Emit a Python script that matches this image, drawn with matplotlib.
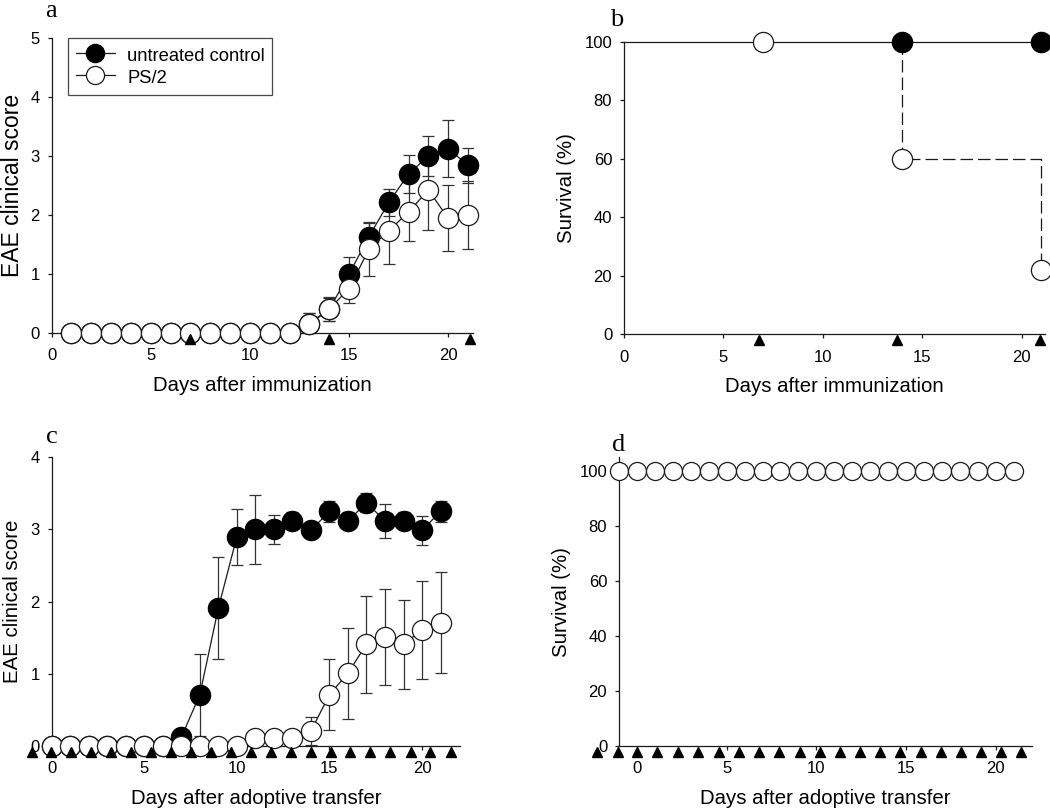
import matplotlib
matplotlib.use('Agg')
import matplotlib.pyplot as plt
import numpy as np

plt.rcParams['font.family'] = ['Liberation Sans', 'DejaVu Sans']

# ---------------- data ----------------
# Panel a: EAE score after immunization
days_a = [1, 2, 3, 4, 5, 6, 7, 8, 9, 10, 11, 12, 13, 14, 15, 16, 17, 18, 19, 20, 21]
ctrl_a = [0, 0, 0, 0, 0, 0, 0, 0, 0, 0, 0, 0, 0.15, 0.40, 1.00, 1.63, 2.21, 2.69, 3.00, 3.12, 2.84]
ctrl_a_err = [0, 0, 0, 0, 0, 0, 0, 0, 0, 0, 0, 0, 0.18, 0.20, 0.29, 0.25, 0.23, 0.32, 0.34, 0.48, 0.30]
ps2_a = [0, 0, 0, 0, 0, 0, 0, 0, 0, 0, 0, 0, 0.16, 0.41, 0.75, 1.42, 1.73, 2.05, 2.42, 1.94, 2.00]
ps2_a_err = [0, 0, 0, 0, 0, 0, 0, 0, 0, 0, 0, 0, 0.18, 0.20, 0.25, 0.45, 0.56, 0.50, 0.67, 0.56, 0.57]
treat_a = [7, 14, 21.1]

# Panel b: survival after immunization
ctrl_b_line_days = [0, 21]
ctrl_b_line = [100, 100]
ctrl_b_days = [14, 21]
ctrl_b = [100, 100]
ps2_b_days = [7, 14, 21]
ps2_b = [100, 60, 22]
treat_b = [6.77, 13.73, 20.95]

# Panel c: EAE score after adoptive transfer
days_c = [0, 1, 2, 3, 4, 5, 6, 7, 8, 9, 10, 11, 12, 13, 14, 15, 16, 17, 18, 19, 20, 21]
ctrl_c = [0, 0, 0, 0, 0, 0, 0, 0.12, 0.71, 1.91, 2.90, 3.00, 3.00, 3.12, 2.99, 3.25, 3.12, 3.37, 3.12, 3.12, 2.99, 3.25]
ctrl_c_err = [0, 0, 0, 0, 0, 0, 0, 0, 0.57, 0.71, 0.39, 0.48, 0.20, 0.12, 0.04, 0.15, 0.12, 0.13, 0.24, 0.12, 0.20, 0.15]
ps2_c = [0, 0, 0, 0, 0, 0, 0, 0, 0, 0, 0, 0.11, 0.11, 0.11, 0.21, 0.71, 1.01, 1.41, 1.51, 1.41, 1.61, 1.71]
ps2_c_err = [0, 0, 0, 0, 0, 0, 0, 0, 0, 0, 0, 0, 0, 0, 0.19, 0.49, 0.63, 0.67, 0.67, 0.62, 0.68, 0.70]
treat_c = [-1.08, -0.05, 1.03, 2.11, 3.19, 4.27, 5.35, 6.43, 7.51, 8.59, 9.68,
           10.76, 11.84, 12.92, 14.0, 15.08, 16.13, 17.2, 18.29, 19.41, 20.45, 21.57]

# Panel d: survival after adoptive transfer
days_d = [-1, 0, 1, 2, 3, 4, 5, 6, 7, 8, 9, 10, 11, 12, 13, 14, 15, 16, 17, 18, 19, 20, 21]
surv_d = [100, 100, 100, 100, 100, 100, 100, 100, 100, 100, 100, 100,
          100, 100, 100, 100, 100, 100, 100, 100, 100, 100, 100]
treat_d = [-2.21, -1.06, 0, 1.13, 2.29, 3.40, 4.55, 5.67, 6.78, 7.90, 9.07,
           10.19, 11.30, 12.42, 13.53, 14.68, 15.86, 16.97, 18.09, 19.2, 20.32, 21.43]

# ---------------- style ----------------
LC = '#1a1a1a'
EC = '#333333'
MS = 14.5
TICK_FS = 12
LABEL_FS = 14.7

fig = plt.figure(figsize=(10.5, 8.1), dpi=100)

def style_axes(ax):
    for s in ['top', 'right']:
        ax.spines[s].set_visible(False)
    for s in ['left', 'bottom']:
        ax.spines[s].set_color(LC)
        ax.spines[s].set_linewidth(0.9)
    ax.tick_params(direction='out', length=3, width=0.9, color=LC,
                   labelsize=TICK_FS)
    ax.tick_params(axis='x', pad=8)
    ax.tick_params(axis='y', pad=5.5)

def errbars(ax, x, y, e):
    x = np.asarray(x, float); y = np.asarray(y, float); e = np.asarray(e, float)
    m = e > 0
    ax.errorbar(x[m], y[m], yerr=e[m], fmt='none', ecolor=EC, elinewidth=0.9,
                capsize=4.5, capthick=0.9, zorder=1)

def triangles(ax, xs, yoff):
    ax.plot(xs, [yoff] * len(xs), linestyle='none', marker='^', color='black',
            ms=6.5, transform=ax.get_xaxis_transform(), clip_on=False, zorder=6)

# ---- panel a ----
axa = fig.add_axes([0.0492, 0.5889, 0.4013, 0.3646])
style_axes(axa)
errbars(axa, days_a, ctrl_a, ctrl_a_err)
errbars(axa, days_a, ps2_a, ps2_a_err)
axa.plot(days_a, ctrl_a, '-', color=LC, lw=0.9, marker='o', ms=MS, mfc='black',
         mec='black', label='untreated control', zorder=3, clip_on=False)
axa.plot(days_a, ps2_a, '-', color=LC, lw=0.9, marker='o', ms=MS, mfc='white',
         mec=LC, mew=0.9, label='PS/2', zorder=4, clip_on=False)
axa.set_xlim(0, 21.25)
axa.set_ylim(0, 5)
axa.set_xticks([0, 5, 10, 15, 20])
axa.set_yticks([0, 1, 2, 3, 4, 5])
axa.set_xlabel('Days after immunization', fontsize=LABEL_FS, labelpad=9)
axa.set_ylabel('EAE clinical score', fontsize=16.5, labelpad=5)
triangles(axa, treat_a, -0.019)
leg = axa.legend(loc='upper left', bbox_to_anchor=(0.0387, 1.0), borderaxespad=0,
                 fontsize=13.2, frameon=True, fancybox=False, handlelength=2.15,
                 handletextpad=0.65, borderpad=0.42, labelspacing=0.1,
                 handleheight=1.25, markerscale=0.9)
leg.get_frame().set_edgecolor(LC)
leg.get_frame().set_linewidth(0.9)

# ---- panel b ----
axb = fig.add_axes([0.5943, 0.5873, 0.4010, 0.3612])
style_axes(axb)
step_x = ps2_b_days[1:2] + ps2_b_days[1:]
step_y = ps2_b[0:1] + ps2_b[1:]
axb.plot(step_x, step_y, color=LC, lw=0.9, drawstyle='steps-post',
         dashes=(10, 4), zorder=2, clip_on=False)
axb.plot(ctrl_b_line_days, ctrl_b_line, '-', color=LC, lw=0.9, zorder=2, clip_on=False)
axb.plot(ctrl_b_days, ctrl_b, linestyle='none', marker='o', ms=MS, mfc='black',
         mec='black', zorder=3, clip_on=False)
axb.plot(ps2_b_days, ps2_b, linestyle='none', marker='o', ms=MS, mfc='white',
         mec=LC, mew=0.9, zorder=4, clip_on=False)
axb.set_xlim(0, 21.18)
axb.set_ylim(0, 100)
axb.set_xticks([0, 5, 10, 15, 20])
axb.set_yticks([0, 20, 40, 60, 80, 100])
axb.set_xlabel('Days after immunization', fontsize=LABEL_FS, labelpad=9)
axb.set_ylabel('Survival (%)', fontsize=LABEL_FS, labelpad=6)
triangles(axb, treat_b, -0.019)

# ---- panel c ----
axc = fig.add_axes([0.0492, 0.0790, 0.3889, 0.3564])
style_axes(axc)
errbars(axc, days_c, ctrl_c, ctrl_c_err)
errbars(axc, days_c, ps2_c, ps2_c_err)
axc.plot(days_c, ctrl_c, '-', color=LC, lw=0.9, marker='o', ms=MS, mfc='black',
         mec='black', zorder=3, clip_on=False)
axc.plot(days_c, ps2_c, '-', color=LC, lw=0.9, marker='o', ms=MS, mfc='white',
         mec=LC, mew=0.9, zorder=4, clip_on=False)
axc.set_xlim(0, 22.05)
axc.set_ylim(0, 4)
axc.set_xticks([0, 5, 10, 15, 20])
axc.set_yticks([0, 1, 2, 3, 4])
axc.set_xlabel('Days after adoptive transfer', fontsize=LABEL_FS, labelpad=9)
axc.set_ylabel('EAE clinical score', fontsize=LABEL_FS, labelpad=6)
triangles(axc, treat_c, -0.02)

# ---- panel d ----
axd = fig.add_axes([0.5895, 0.0790, 0.3930, 0.3564])
style_axes(axd)
axd.plot(days_d, surv_d, '-', color=LC, lw=0.9, marker='o', ms=13, mfc='white',
         mec=LC, mew=0.9, zorder=4, clip_on=False)
axd.set_xlim(-1.0, 22.0)
axd.set_ylim(0, 105)
axd.set_xticks([0, 5, 10, 15, 20])
axd.set_yticks([0, 20, 40, 60, 80, 100])
axd.set_xlabel('Days after adoptive transfer', fontsize=LABEL_FS, labelpad=9)
axd.set_ylabel('Survival (%)', fontsize=LABEL_FS, labelpad=6)
triangles(axd, treat_d, -0.022)

# ---- panel letters ----
SERIF = ['Liberation Serif', 'DejaVu Serif']
fig.text(45 / 1050, 1 - 17 / 810, 'a', family=SERIF, fontsize=19, ha='left', va='baseline')
fig.text(610 / 1050, 1 - 26 / 810, 'b', family=SERIF, fontsize=19, ha='left', va='baseline')
fig.text(46 / 1050, 1 - 443 / 810, 'c', family=SERIF, fontsize=19, ha='left', va='baseline')
fig.text(612 / 1050, 1 - 451 / 810, 'd', family=SERIF, fontsize=19, ha='left', va='baseline')

fig.savefig('out.png', dpi=100, facecolor='white')
